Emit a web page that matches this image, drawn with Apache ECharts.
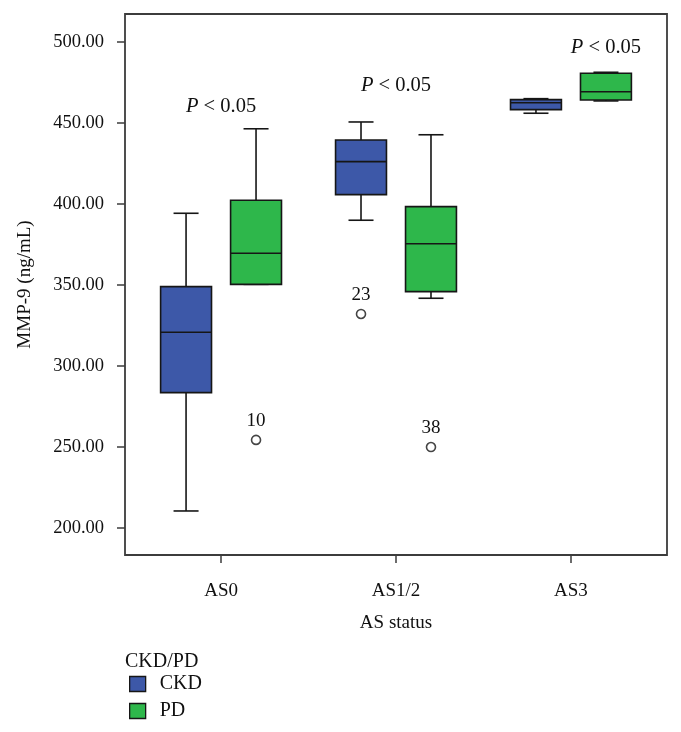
<!DOCTYPE html>
<html>
<head>
<meta charset="utf-8">
<script src="https://cdn.jsdelivr.net/npm/echarts@6/dist/echarts.min.js"></script>
<style>html,body{margin:0;padding:0;background:#fff;}#c{width:681px;height:732px;}</style>
</head>
<body>
<div id="c"></div>
<script>
// ---- data ----
var categories = ['AS0', 'AS1/2', 'AS3'];
var groups = ['CKD', 'PD'];
// [lower whisker, Q1, median, Q3, upper whisker]
var ckdBoxes = [
  [210.3, 283.4, 320.7, 348.9, 394.2],
  [389.9, 405.7, 426.1, 439.5, 450.6],
  [456.0, 458.2, 462.5, 464.4, 465.0]
];
var pdBoxes = [
  [350.3, 350.3, 369.5, 402.2, 446.4],
  [341.7, 345.8, 375.4, 398.3, 442.7],
  [463.6, 464.2, 469.3, 480.7, 481.3]
];
// outliers: category index, value, case label
var ckdOutlierCat = [1];
var ckdOutlierVal = [332.0];
var ckdOutlierCase = ['23'];
var pdOutlierCat = [0, 1];
var pdOutlierVal = [254.2, 249.8];
var pdOutlierCase = ['10', '38'];
// significance annotations
var pText = ['P < 0.05', 'P < 0.05', 'P < 0.05'];
var pCat = [0, 1, 2];
var pVal = [459.9, 473.1, 496.6];
var yTicks = [200, 250, 300, 350, 400, 450, 500];

// ---- styling / layout constants ----
var FONT = 'Liberation Serif';
var TXT = '#111111';
var BLUE = '#3D58A8';
var GREEN = '#2EB74B';
var OFFSET = 0.2;      // group offset in category units
var BOX_W = 0.291;     // box width in category units
var CAP_W = 0.143;     // whisker cap width in category units
var pOffset = [0, 0, 0.2];

function boxData(boxes, off) {
  return boxes.map(function (b, i) { return [i + off].concat(b); });
}
function outData(cats, vals, cases, off) {
  return cats.map(function (c, i) { return { value: [c + off, vals[i]], caseId: cases[i] }; });
}

function renderBox(params, api) {
  var x = api.value(0);
  var lo = api.value(1), q1 = api.value(2), med = api.value(3), q3 = api.value(4), hi = api.value(5);
  var hb = api.size([BOX_W, 0])[0] / 2;
  var hc = api.size([CAP_W, 0])[0] / 2;
  var pLo = api.coord([x, lo]), pQ1 = api.coord([x, q1]), pMed = api.coord([x, med]),
      pQ3 = api.coord([x, q3]), pHi = api.coord([x, hi]);
  var cx = pMed[0];
  var ls = { stroke: '#161616', lineWidth: 1.6, fill: null };
  return {
    type: 'group',
    children: [
      { type: 'line', shape: { x1: cx, y1: pHi[1], x2: cx, y2: pQ3[1] }, style: ls },
      { type: 'line', shape: { x1: cx, y1: pQ1[1], x2: cx, y2: pLo[1] }, style: ls },
      { type: 'line', shape: { x1: cx - hc, y1: pHi[1], x2: cx + hc, y2: pHi[1] }, style: ls },
      { type: 'line', shape: { x1: cx - hc, y1: pLo[1], x2: cx + hc, y2: pLo[1] }, style: ls },
      { type: 'rect', shape: { x: cx - hb, y: pQ3[1], width: 2 * hb, height: pQ1[1] - pQ3[1] },
        style: { fill: api.visual('color'), stroke: '#161616', lineWidth: 1.6 } },
      { type: 'line', shape: { x1: cx - hb, y1: pMed[1], x2: cx + hb, y2: pMed[1] }, style: ls }
    ]
  };
}

var outlierStyle = {
  type: 'scatter',
  symbol: 'circle',
  symbolSize: 9,
  itemStyle: { color: '#fff', borderColor: '#161616', borderWidth: 1.6 },
  label: {
    show: true, position: 'top', distance: 4,
    formatter: function (p) { return p.data.caseId; },
    fontFamily: FONT, fontSize: 19, color: TXT, textBorderWidth: 0, opacity: 1
  },
  silent: true
};

var chart = echarts.init(document.getElementById('c'), null, { renderer: 'canvas' });
chart.setOption({
  animation: false,
  backgroundColor: '#fff',
  title: {
    text: 'CKD/PD', left: 125, top: 652, padding: 0,
    textStyle: { fontFamily: FONT, fontSize: 20, fontWeight: 'normal', color: TXT }
  },
  legend: {
    orient: 'vertical', left: 129, top: 674, padding: 0,
    itemWidth: 16, itemHeight: 15, itemGap: 7, icon: 'rect',
    textStyle: { fontFamily: FONT, fontSize: 20, color: TXT, padding: [0, 0, 0, 9] },
    data: [
      { name: groups[0], itemStyle: { color: BLUE, borderColor: '#161616', borderWidth: 1.3 } },
      { name: groups[1], itemStyle: { color: GREEN, borderColor: '#161616', borderWidth: 1.3 } }
    ]
  },
  grid: {
    left: 125, right: 14, top: 14, bottom: 177,
    show: true, borderColor: '#3c3c3c', borderWidth: 1.8, backgroundColor: '#fff'
  },
  xAxis: {
    type: 'value', min: -0.549, max: 2.549,
    name: 'AS status', nameLocation: 'middle', nameGap: 59,
    nameTextStyle: { fontFamily: FONT, fontSize: 19, color: TXT },
    axisLine: { show: false, onZero: false },
    axisTick: { show: true, length: 8, lineStyle: { color: '#3c3c3c', width: 1.5 }, customValues: [0, 1, 2] },
    axisLabel: {
      customValues: [0, 1, 2], margin: 27,
      formatter: function (v) { return categories[Math.round(v)]; },
      fontFamily: FONT, fontSize: 19, color: TXT
    },
    splitLine: { show: false }
  },
  yAxis: {
    type: 'value', min: 183.1, max: 517.3,
    name: 'MMP-9 (ng/mL)', nameLocation: 'middle', nameGap: 90, nameRotate: 90,
    nameTextStyle: { fontFamily: FONT, fontSize: 19, color: TXT },
    axisLine: { show: false, onZero: false },
    axisTick: { show: true, length: 8, lineStyle: { color: '#3c3c3c', width: 1.5 }, customValues: yTicks },
    axisLabel: {
      customValues: yTicks, margin: 21,
      formatter: function (v) { return v.toFixed(2); },
      fontFamily: FONT, fontSize: 18.5, color: TXT
    },
    splitLine: { show: false }
  },
  series: [
    {
      name: groups[0], type: 'custom', renderItem: renderBox,
      itemStyle: { color: BLUE },
      encode: { x: 0, y: [1, 2, 3, 4, 5] },
      data: boxData(ckdBoxes, -OFFSET), silent: true
    },
    {
      name: groups[1], type: 'custom', renderItem: renderBox,
      itemStyle: { color: GREEN },
      encode: { x: 0, y: [1, 2, 3, 4, 5] },
      data: boxData(pdBoxes, OFFSET), silent: true
    },
    Object.assign({ name: groups[0] + ' outliers', data: outData(ckdOutlierCat, ckdOutlierVal, ckdOutlierCase, -OFFSET) }, outlierStyle),
    Object.assign({ name: groups[1] + ' outliers', data: outData(pdOutlierCat, pdOutlierVal, pdOutlierCase, OFFSET) }, outlierStyle),
    {
      name: 'p', type: 'scatter', symbolSize: 1, silent: true,
      itemStyle: { color: 'rgba(0,0,0,0)' },
      data: pCat.map(function (c, i) { return { value: [c + pOffset[i], pVal[i]], txt: pText[i] }; }),
      label: {
        show: true, position: 'inside',
        formatter: function (p) { return '{i|' + p.data.txt.charAt(0) + '}' + p.data.txt.slice(1); },
        fontFamily: FONT, fontSize: 20.5, color: TXT, textBorderWidth: 0, opacity: 1,
        rich: { i: { fontFamily: FONT, fontSize: 20.5, fontStyle: 'italic', color: TXT, textBorderWidth: 0 } }
      }
    }
  ]
});
</script>
</body>
</html>
